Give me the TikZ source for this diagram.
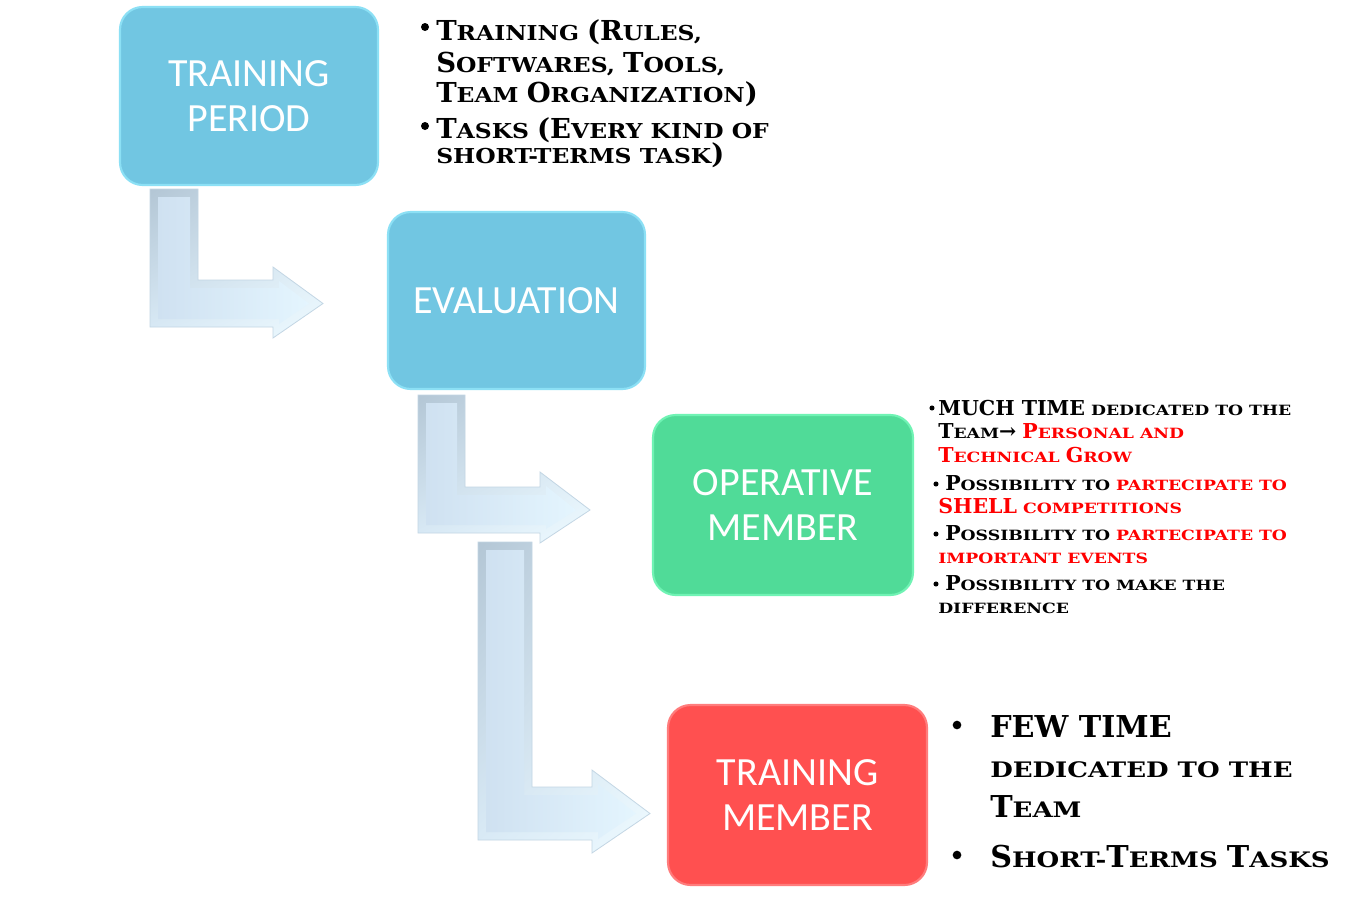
\documentclass[tikz,border=0pt]{standalone}
\usepackage{fontspec}
\usetikzlibrary{shadings}
\newfontfamily\cpf[FakeStretch=1.22]{DejaVu Serif}
\newfontfamily\cpfA[FakeStretch=1.14]{DejaVu Serif}
\newfontfamily\cpb{DejaVu Serif}
\newfontfamily\boxf{Carlito}
\definecolor{bluef}{HTML}{71C6E2}
\definecolor{blued}{HTML}{8CE0F5}
\definecolor{greenf}{HTML}{50DB98}
\definecolor{greend}{HTML}{70F3B4}
\definecolor{redf}{HTML}{FF5050}
\definecolor{redd}{HTML}{FF7C7C}
\definecolor{arD}{HTML}{B3C6D5}
\definecolor{arM}{HTML}{D3E4F0}
\definecolor{arN}{HTML}{DAEBF7}
\definecolor{arL}{HTML}{EEFAFF}
\definecolor{arE}{HTML}{C3D6E4}
\definecolor{arIa}{HTML}{CFE1F1}
\definecolor{arIb}{HTML}{E4F5FE}
\definecolor{hl}{HTML}{FF0000}
\def\bigsz{20}
\newcommand\Cb[1]{{\cpb\bfseries\fontsize{\bigsz}{\bigsz}\selectfont #1}}
\newcommand\myarrow[9]{%
  \pgfmathsetmacro\ym{(#4+#5)/2}%
  \shade[upper left=arD, upper right=arM, lower left=arN, lower right=arL, draw=arE, line width=0.6pt]
    (#1,#3) -- (#2,#3) -- (#2,#4) -- (#6,#4) -- (#6,#7) -- (#9,\ym) -- (#6,#8) -- (#6,#5) -- (#1,#5) -- cycle;
  \shade[left color=arIa, right color=arIb]
    ({#1+8},{#3+8}) -- ({#2-8},{#3+8}) -- ({#2-8},{#4+8}) -- ({#6+6},{#4+8}) -- ({#6+6},{#7+14}) -- ({#9-14},\ym) -- ({#6+6},{#8-14}) -- ({#6+6},{#5-8}) -- ({#1+8},{#5-8}) -- cycle;
}
\tikzset{
  box/.style={rounded corners=17pt, inner sep=0pt, align=center, text=white,
    font=\boxf\fontsize{30}{34}\selectfont, line width=1.6pt},
  tA/.style={anchor=base west, inner sep=0pt,
    font=\cpfA\bfseries\fontsize{15.4}{18}\selectfont\def\bigsz{20.6}},
  tB/.style={anchor=base west, inner sep=0pt,
    font=\cpf\bfseries\fontsize{10.6}{13}\selectfont\def\bigsz{15.4}},
  tC/.style={anchor=base west, inner sep=0pt,
    font=\cpf\bfseries\fontsize{16}{19}\selectfont\def\bigsz{22.6}},
  bul/.style={circle, fill=black, inner sep=0pt, minimum size=#1},
}
\begin{document}
\begin{tikzpicture}[x=0.75pt, y=-0.75pt]
\useasboundingbox (0,0) rectangle (1359,896);
\fill[white] (0,0) rectangle (1359,896);

% arrows
\myarrow{150}{198}{189}{280}{327}{273}{267}{338}{323}
\myarrow{418}{465}{395}{487}{533}{540}{472}{543}{590}
\myarrow{478}{532}{542}{787}{840}{592}{770}{853}{650}

% boxes
\node[box, fill=bluef, draw=blued, minimum width=193.5pt, minimum height=133.5pt] (tp) at (249,96) {TRAINING\\PERIOD};
\node[box, fill=bluef, draw=blued, minimum width=192.75pt, minimum height=132.75pt] (ev) at (516.5,300.5) {EVALUATION};
\node[box, fill=greenf, draw=greend, minimum width=195pt, minimum height=135pt] (om) at (783,505) {OPERATIVE\\MEMBER};
\node[box, fill=redf, draw=redd, minimum width=194.25pt, minimum height=135pt] (tm) at (797.5,795) {TRAINING\\MEMBER};

% block 1
\node[bul=6pt] (k1) at (425,27) {};
\node[bul=6pt] (k2) at (425,126) {};
\node[tA] (a1) at (436,40) {\Cb{T}RAINING \Cb{(R}ULES,};
\node[tA] (a2) at (436,72) {\Cb{S}OFTWARES, \Cb{T}OOLS,};
\node[tA] (a3) at (436,102) {\Cb{T}EAM \Cb{O}RGANIZATION\Cb{)}};
\node[tA] (a4) at (436,138) {\Cb{T}ASKS \Cb{(E}VERY KIND OF};
\node[tA] (a5) at (436,163) {SHORT-TERMS TASK\Cb{)}};

% block 2
\node[bul=3.8pt] (k3) at (932,408) {};
\node[bul=3.8pt] (k4) at (936,484) {};
\node[bul=3.8pt] (k5) at (936,534) {};
\node[bul=3.8pt] (k6) at (936,584) {};
\node[tB] (c1) at (938,415) {\Cb{MUCH TIME} DEDICATED TO THE};
\node[tB] (c2) at (938,438) {\Cb{T}EAM\Cb{→} \textcolor{hl}{\Cb{P}ERSONAL AND}};
\node[tB, text=hl] (c3) at (938,462) {\Cb{T}ECHNICAL \Cb{G}ROW};
\node[tB] (c4) at (945,490) {\Cb{P}OSSIBILITY TO \textcolor{hl}{PARTECIPATE TO}};
\node[tB, text=hl] (c5) at (938,513) {\Cb{SHELL} COMPETITIONS};
\node[tB] (c6) at (945,540) {\Cb{P}OSSIBILITY TO \textcolor{hl}{PARTECIPATE TO}};
\node[tB, text=hl] (c7) at (938,563) {IMPORTANT EVENTS};
\node[tB] (c8) at (945,590) {\Cb{P}OSSIBILITY TO MAKE THE};
\node[tB] (c9) at (938,613) {DIFFERENCE};

% block 3
\node[bul=6.5pt] (k7) at (957,725) {};
\node[bul=6.5pt] (k8) at (957,855) {};
\node[tC] (d1) at (990,737) {\Cb{FEW TIME}};
\node[tC] (d2) at (990,777) {DEDICATED TO THE};
\node[tC] (d3) at (990,817) {\Cb{T}EAM};
\node[tC] (d4) at (990,867) {\Cb{S}HORT-\Cb{T}ERMS \Cb{T}ASKS};
\end{tikzpicture}
\end{document}
